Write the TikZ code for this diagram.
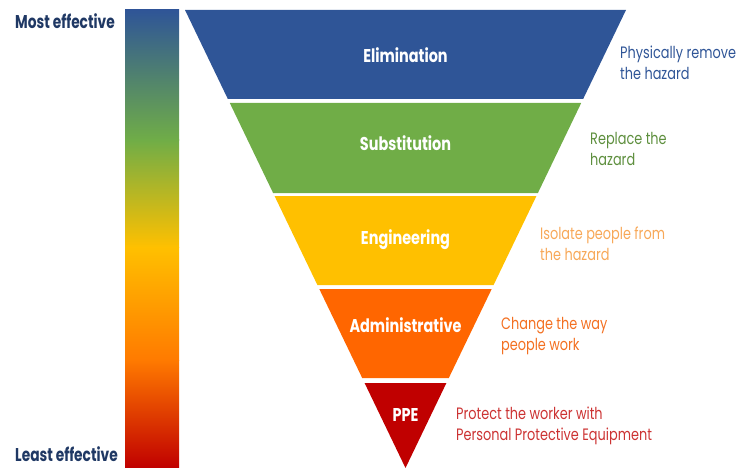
\documentclass[tikz,border=0pt]{standalone}
\usepackage{fontspec}
\setmainfont{Poppins}
\usetikzlibrary{calc}
\definecolor{cBlue}{HTML}{2F5597}
\definecolor{cGreen}{HTML}{70AD47}
\definecolor{cYellow}{HTML}{FFC000}
\definecolor{cOrange}{HTML}{FF6600}
\definecolor{cBarOrange}{HTML}{FF7A00}
\definecolor{cRed}{HTML}{C00000}
\definecolor{cNavy}{HTML}{1F3864}
\definecolor{tGreen}{HTML}{5E8F3E}
\definecolor{tYellow}{HTML}{F7A858}
\definecolor{tOrange}{HTML}{F37021}
\definecolor{tRed}{HTML}{CC3333}
\newcommand{\sqz}[1]{\scalebox{0.78}[1]{#1}}
\newcommand{\sqzside}[1]{\scalebox{0.745}[1]{#1}}
\newcommand{\twolines}[2]{\sqz{\begin{tabular}[t]{@{}l@{}}#1\\#2\end{tabular}}}
\tikzset{
  bandlabel/.style={text=white,font=\fontsize{18.5}{20}\selectfont\bfseries,inner sep=0pt,anchor=base},
  desc/.style={anchor=base west,inner sep=0pt,font=\fontsize{16.5}{21}\selectfont},
  sidelabel/.style={text=cNavy,font=\fontsize{18.5}{20}\selectfont\bfseries,inner sep=0pt,anchor=base west,text depth=0pt}
}
\begin{document}
\begin{tikzpicture}[x=1pt,y=-1pt]
\useasboundingbox (0,0) rectangle (747,468);
% gradient bar
\shade[top color=cBlue,bottom color=cGreen] (125,10) rectangle (179,140.5);
\shade[top color=cGreen,bottom color=cYellow] (125,140) rectangle (179,247.5);
\shade[top color=cYellow,bottom color=cBarOrange] (125,247) rectangle (179,360.5);
\shade[top color=cBarOrange,bottom color=cRed] (125,360) rectangle (179,468);
% bands
\fill[cBlue] (185,10) -- (626,10) -- (583.15,99) -- (227.85,99) -- cycle;
\fill[cGreen] (229.8,103) -- (581.2,103) -- (537.9,193) -- (273.1,193) -- cycle;
\fill[cYellow] (274.55,196) -- (536.45,196) -- (493.6,285) -- (317.4,285) -- cycle;
\fill[cOrange] (319.3,289) -- (491.7,289) -- (448.8,378) -- (362.2,378) -- cycle;
\fill[cRed] (364.6,383) -- (446.4,383) -- (405.5,468) -- cycle;
% band labels
\node[bandlabel] (elim) at (405.5,62.5) {\sqz{Elimination}};
\node[bandlabel] (subs) at (405.5,150) {\sqz{Substitution}};
\node[bandlabel] (eng) at (405.5,244) {\sqz{Engineering}};
\node[bandlabel] (adm) at (405.5,332) {\sqz{Administrative}};
\node[bandlabel] (ppe) at (405.5,421.5) {\sqz{PPE}};
% descriptions
\node[desc,text=cBlue] (d1) at (620,59) {\twolines{Physically remove}{the hazard}};
\node[desc,text=tGreen] (d2) at (590,145) {\twolines{Replace the}{hazard}};
\node[desc,text=tYellow] (d3) at (540,239) {\twolines{Isolate people from}{the hazard}};
\node[desc,text=tOrange] (d4) at (501,329) {\twolines{Change the way}{people work}};
\node[desc,text=tRed] (d5) at (456,419) {\twolines{Protect the worker with}{Personal Protective Equipment}};
% side labels
\node[sidelabel] (most) at (15,28.3) {\sqzside{Most effective}};
\node[sidelabel] (least) at (15,461) {\sqzside{Least effective}};
\end{tikzpicture}
\end{document}
